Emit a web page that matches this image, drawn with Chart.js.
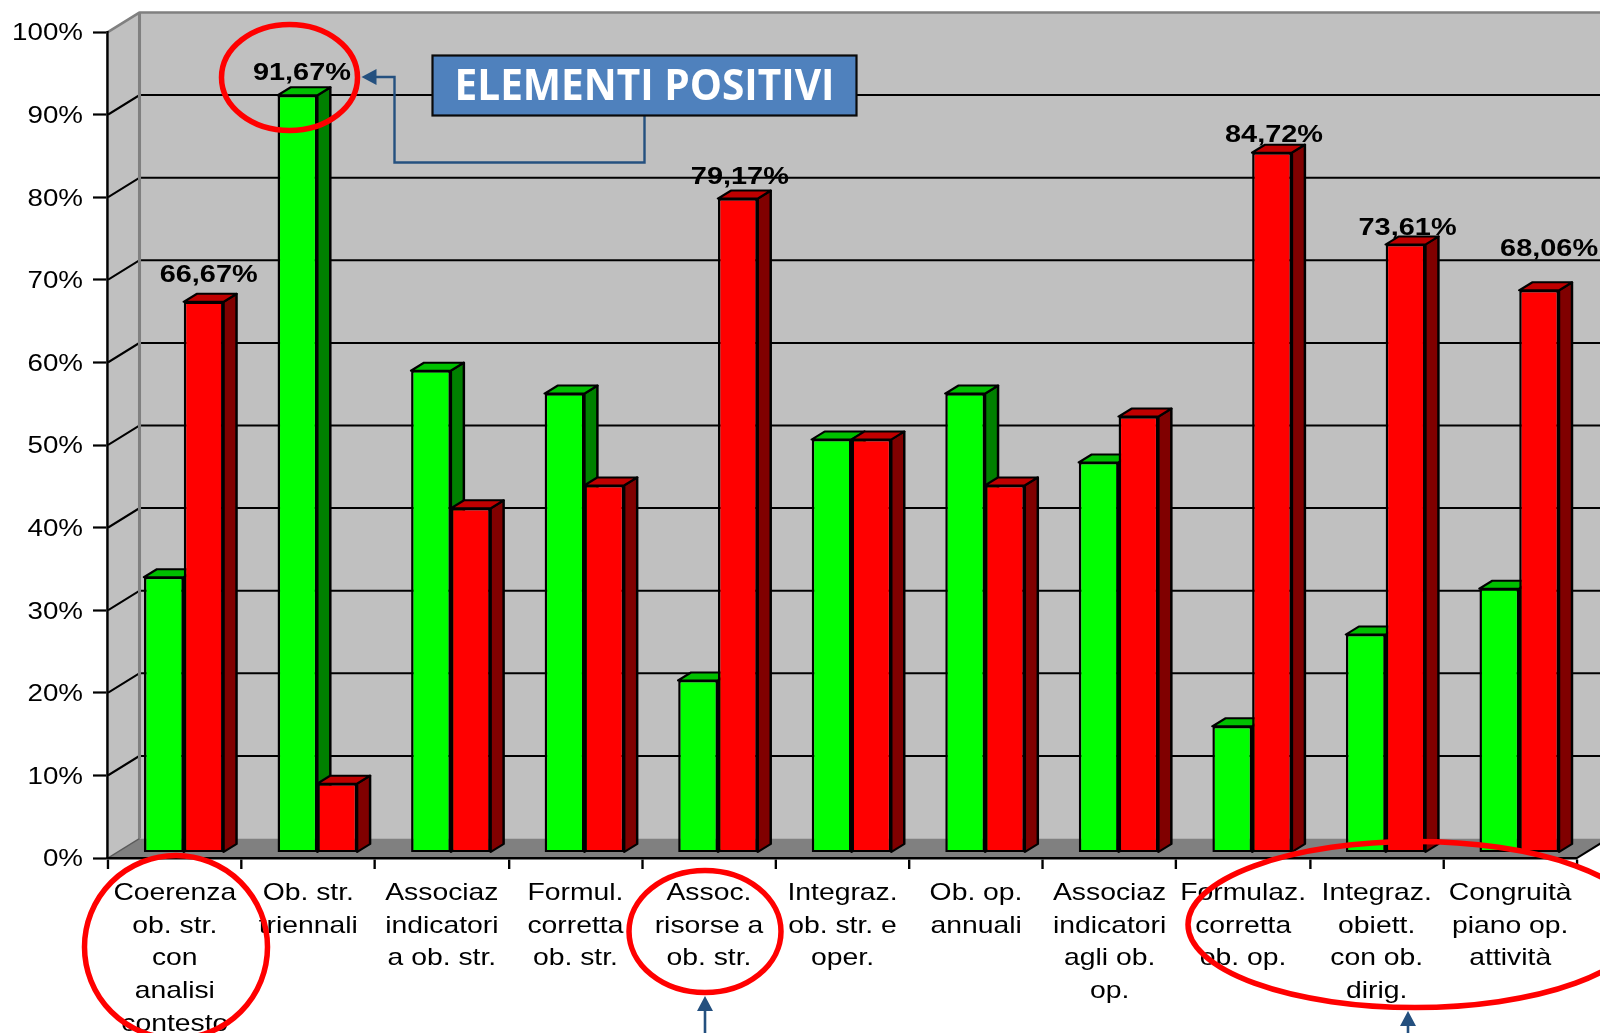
<!DOCTYPE html>
<html lang="it">
<head>
<meta charset="utf-8">
<title>Elementi positivi</title>
<script src="https://cdn.jsdelivr.net/npm/chart.js@4"></script>
<style>
  html, body { margin: 0; padding: 0; background: #fff; overflow: hidden; }
  canvas { display: block; }
</style>
</head>
<body>
<canvas id="chart" width="1600" height="1033"></canvas>
<script>
// Category labels, one array entry per printed line
const categories = [
  ['Coerenza', 'ob. str.', 'con', 'analisi', 'contesto'],
  ['Ob. str.', 'triennali'],
  ['Associaz', 'indicatori', 'a ob. str.'],
  ['Formul.', 'corretta', 'ob. str.'],
  ['Assoc.', 'risorse a', 'ob. str.'],
  ['Integraz.', 'ob. str. e', 'oper.'],
  ['Ob. op.', 'annuali'],
  ['Associaz', 'indicatori', 'agli ob.', 'op.'],
  ['Formulaz.', 'corretta', 'ob. op.'],
  ['Integraz.', 'obiett.', 'con ob.', 'dirig.'],
  ['Congruità', 'piano op.', 'attività']
];
const greenValues = [33.33, 91.67, 58.33, 55.56, 20.83, 50.00, 55.56, 47.22, 15.28, 26.39, 31.94];
const redValues   = [66.67,  8.33, 41.67, 44.44, 79.17, 50.00, 44.44, 52.78, 84.72, 73.61, 68.06];
const greenLabelled = [1];
const redLabelled = [0, 4, 8, 9, 10];
const yTicks = [0, 10, 20, 30, 40, 50, 60, 70, 80, 90, 100];

// The whole plot is laid out narrow and widened on the canvas, text included
const WIDEN = 1.18;
const wx = px => px / WIDEN;

// Pseudo-3D geometry, in canvas pixels
const WALL_DX = 31.5, WALL_DY = 19.5;     // depth of the box behind the axes
const BAR_SHIFT_X = 9, BAR_SHIFT_Y = 5.5; // bars stand a little inside the floor
const BAR_DX = 13, BAR_DY = 8;            // depth of each bar

const AXIS_LEFT = 108, AXIS_RIGHT = 1577, AXIS_TOP = 32, AXIS_BOTTOM = 858;
const W = 1600, H = 1033;

// Fine placement of the value captions relative to the bar's front face
const captionNudge = {
  green: { 1: [4.5, -22.5] },
  red: { 0: [5, -27], 4: [2, -21], 8: [2, -17.5], 9: [2, -16.5], 10: [10, -41.5] }
};

function poly(ctx, pts, fill, stroke, lw) {
  ctx.beginPath();
  pts.forEach((p, i) => i ? ctx.lineTo(p[0], p[1]) : ctx.moveTo(p[0], p[1]));
  ctx.closePath();
  if (fill) { ctx.fillStyle = fill; ctx.fill(); }
  if (stroke) { ctx.strokeStyle = stroke; ctx.lineWidth = lw; ctx.lineJoin = 'round'; ctx.stroke(); }
}

const widenPlugin = {
  id: 'widen',
  beforeDraw(chart) {
    const ctx = chart.ctx;
    ctx.save();
    ctx.scale(WIDEN, 1);
  },
  afterDraw(chart) {
    chart.ctx.restore();
  }
};

// Back wall, side wall, floor and the gridlines running across them
const boxPlugin = {
  id: 'box',
  beforeDraw(chart) {
    const ctx = chart.ctx;
    const x = chart.scales.x, y = chart.scales.y;
    const l = x.left, r = x.right + wx(WALL_DX), bl = l + wx(WALL_DX);
    const top = y.top, bottom = y.bottom;

    poly(ctx, [[l, bottom], [l, top], [bl, top - WALL_DY], [bl, bottom - WALL_DY]], '#c0c0c0');
    poly(ctx, [[bl, top - WALL_DY], [r, top - WALL_DY], [r, bottom - WALL_DY], [bl, bottom - WALL_DY]], '#c0c0c0');
    poly(ctx, [[l, bottom], [bl, bottom - WALL_DY], [r, bottom - WALL_DY], [x.right, bottom]], '#808080');

    // gridlines: diagonal on the side wall, straight on the back wall
    ctx.strokeStyle = '#000';
    ctx.lineWidth = 2;
    ctx.lineJoin = 'bevel';
    yTicks.slice(1, -1).forEach(v => {
      const py = y.getPixelForValue(v);
      ctx.beginPath();
      ctx.moveTo(l, py);
      ctx.lineTo(bl, py - WALL_DY);
      ctx.lineTo(r, py - WALL_DY);
      ctx.stroke();
    });

    // wall outlines
    ctx.strokeStyle = '#808080';
    ctx.lineWidth = 2.6;
    ctx.beginPath();
    ctx.moveTo(l, top);
    ctx.lineTo(bl, top - WALL_DY);
    ctx.lineTo(r, top - WALL_DY);
    ctx.moveTo(bl, top - WALL_DY);
    ctx.lineTo(bl, bottom - WALL_DY);
    ctx.stroke();
    ctx.lineWidth = 1.5;
    ctx.strokeStyle = '#5a5a5a';
    ctx.beginPath();
    ctx.moveTo(l, bottom);
    ctx.lineTo(bl, bottom - WALL_DY);
    ctx.stroke();

    // floor's right edge
    ctx.strokeStyle = '#000';
    ctx.lineWidth = 2;
    ctx.beginPath();
    ctx.moveTo(x.right, bottom);
    ctx.lineTo(r, bottom - WALL_DY);
    ctx.stroke();
  }
};

// Extrudes the library's bars into boxes and moves them off the axis plane
const barBoxPlugin = {
  id: 'barBox',
  beforeDatasetsDraw(chart) {
    const ctx = chart.ctx;
    ctx.save();
    ctx.translate(wx(BAR_SHIFT_X), -BAR_SHIFT_Y);
    const dx = wx(BAR_DX), dy = BAR_DY;
    chart.data.datasets.forEach((ds, di) => {
      chart.getDatasetMeta(di).data.forEach(bar => {
        const a = bar.x - bar.width / 2, b = bar.x + bar.width / 2;
        poly(ctx, [[b, bar.y], [b + dx, bar.y - dy], [b + dx, bar.base - dy], [b, bar.base]],
          ds.sideColor, '#000', 2.1);
        poly(ctx, [[a, bar.y], [a + dx, bar.y - dy], [b + dx, bar.y - dy], [b, bar.y]],
          ds.topColor, '#000', 2.1);
      });
    });
  },
  afterDatasetsDraw(chart) {
    const ctx = chart.ctx;
    ctx.restore();

    // value captions
    ctx.save();
    ctx.fillStyle = '#000';
    ctx.font = 'bold 24.5px "Liberation Sans"';
    ctx.textAlign = 'center';
    ctx.textBaseline = 'middle';
    const caption = (di, list, nudge, values) => list.forEach(i => {
      const bar = chart.getDatasetMeta(di).data[i];
      const n = nudge[i];
      const text = values[i].toFixed(2).replace('.', ',') + '%';
      ctx.fillText(text, bar.x + wx(BAR_SHIFT_X + n[0]), bar.y - BAR_SHIFT_Y + n[1]);
    });
    caption(0, greenLabelled, captionNudge.green, greenValues);
    caption(1, redLabelled, captionNudge.red, redValues);
    ctx.restore();
  }
};

// Hand-drawn emphasis: red rings, the call-out box and its arrows
const calloutPlugin = {
  id: 'callouts',
  afterDraw(chart) {
    const ctx = chart.ctx;
    const navy = '#24507f';

    const arrowHead = (tx, ty, ux, uy) => {
      const len = 15, half = 8;
      ctx.fillStyle = navy;
      ctx.beginPath();
      ctx.moveTo(tx, ty);
      ctx.lineTo(tx + ux * len - uy * half, ty + uy * len + ux * half);
      ctx.lineTo(tx + ux * len + uy * half, ty + uy * len - ux * half);
      ctx.closePath();
      ctx.fill();
    };

    // connector from the box to the tallest green bar
    ctx.strokeStyle = navy;
    ctx.lineWidth = 2.4;
    ctx.lineJoin = 'miter';
    ctx.beginPath();
    ctx.moveTo(644.5, 115);
    ctx.lineTo(644.5, 162.5);
    ctx.lineTo(394.5, 162.5);
    ctx.lineTo(394.5, 77);
    ctx.lineTo(372, 77);
    ctx.stroke();
    arrowHead(361.5, 77, 1, 0);

    // upward arrows under the category labels
    ctx.lineWidth = 2.6;
    [[705, 996], [1408, 1011]].forEach(([ax, ay]) => {
      ctx.beginPath();
      ctx.moveTo(ax, ay + 12);
      ctx.lineTo(ax, H);
      ctx.stroke();
      arrowHead(ax, ay, 0, 1);
    });

    // call-out box
    ctx.fillStyle = '#4f81bd';
    ctx.fillRect(432.5, 55.5, 424, 60);
    ctx.strokeStyle = '#0a0a0a';
    ctx.lineWidth = 2.2;
    ctx.strokeRect(432.5, 55.5, 424, 60);
    ctx.fillStyle = '#fff';
    ctx.font = 'bold 43px "Open Sans"';
    ctx.textAlign = 'center';
    ctx.textBaseline = 'middle';
    ctx.fillText('ELEMENTI POSITIVI', 644.5, 88, 380);

    // red rings
    ctx.strokeStyle = '#ff0000';
    ctx.lineWidth = 5.5;
    [[289.5, 77.5, 68, 53], [176, 947, 91.5, 91.5], [705, 931.5, 76, 61], [1415, 924.5, 227, 83]]
      .forEach(([cx, cy, rx, ry]) => {
        ctx.beginPath();
        ctx.ellipse(cx, cy, rx, ry, 0, 0, Math.PI * 2);
        ctx.stroke();
      });
  }
};

new Chart(document.getElementById('chart'), {
  type: 'bar',
  data: {
    labels: categories,
    datasets: [
      { data: greenValues, backgroundColor: '#00ff00', sideColor: '#008000', topColor: '#00c000' },
      { data: redValues, backgroundColor: '#ff0000', sideColor: '#800000', topColor: '#c00000' }
    ]
  },
  options: {
    responsive: false,
    animation: false,
    devicePixelRatio: 1,
    layout: { padding: { left: 0, top: AXIS_TOP, right: W - wx(AXIS_RIGHT), bottom: 0 } },
    datasets: {
      bar: {
        categoryPercentage: 79.5 / 133.5,
        barPercentage: 1,
        borderColor: '#000',
        borderWidth: 2.1,
        borderSkipped: false
      }
    },
    plugins: { legend: { display: false }, tooltip: { enabled: false }, title: { display: false } },
    scales: {
      x: {
        afterFit(scale) { scale.height = H - AXIS_BOTTOM; },
        grid: {
          drawOnChartArea: false,
          drawTicks: true,
          tickLength: 11,
          tickColor: '#000',
          tickWidth: 2
        },
        border: { color: '#000', width: 2.6 },
        ticks: {
          color: '#000',
          autoSkip: false,
          minRotation: 0,
          maxRotation: 0,
          padding: 8,
          font: { family: '"Liberation Sans"', size: 24, lineHeight: 1.36 }
        }
      },
      y: {
        min: 0,
        max: 100,
        afterFit(scale) { scale.width = wx(AXIS_LEFT); },
        afterBuildTicks(scale) { scale.ticks = yTicks.map(v => ({ value: v })); },
        grid: {
          drawOnChartArea: false,
          drawTicks: true,
          tickLength: wx(15),
          tickColor: '#000',
          tickWidth: 2.2
        },
        border: { color: '#000', width: 2.1 },
        ticks: {
          color: '#000',
          padding: wx(10),
          labelOffset: 2,
          callback: v => v + '%',
          font: { family: '"Liberation Sans"', size: 23.5 }
        }
      }
    }
  },
  plugins: [widenPlugin, boxPlugin, barBoxPlugin, calloutPlugin]
});
</script>
</body>
</html>
